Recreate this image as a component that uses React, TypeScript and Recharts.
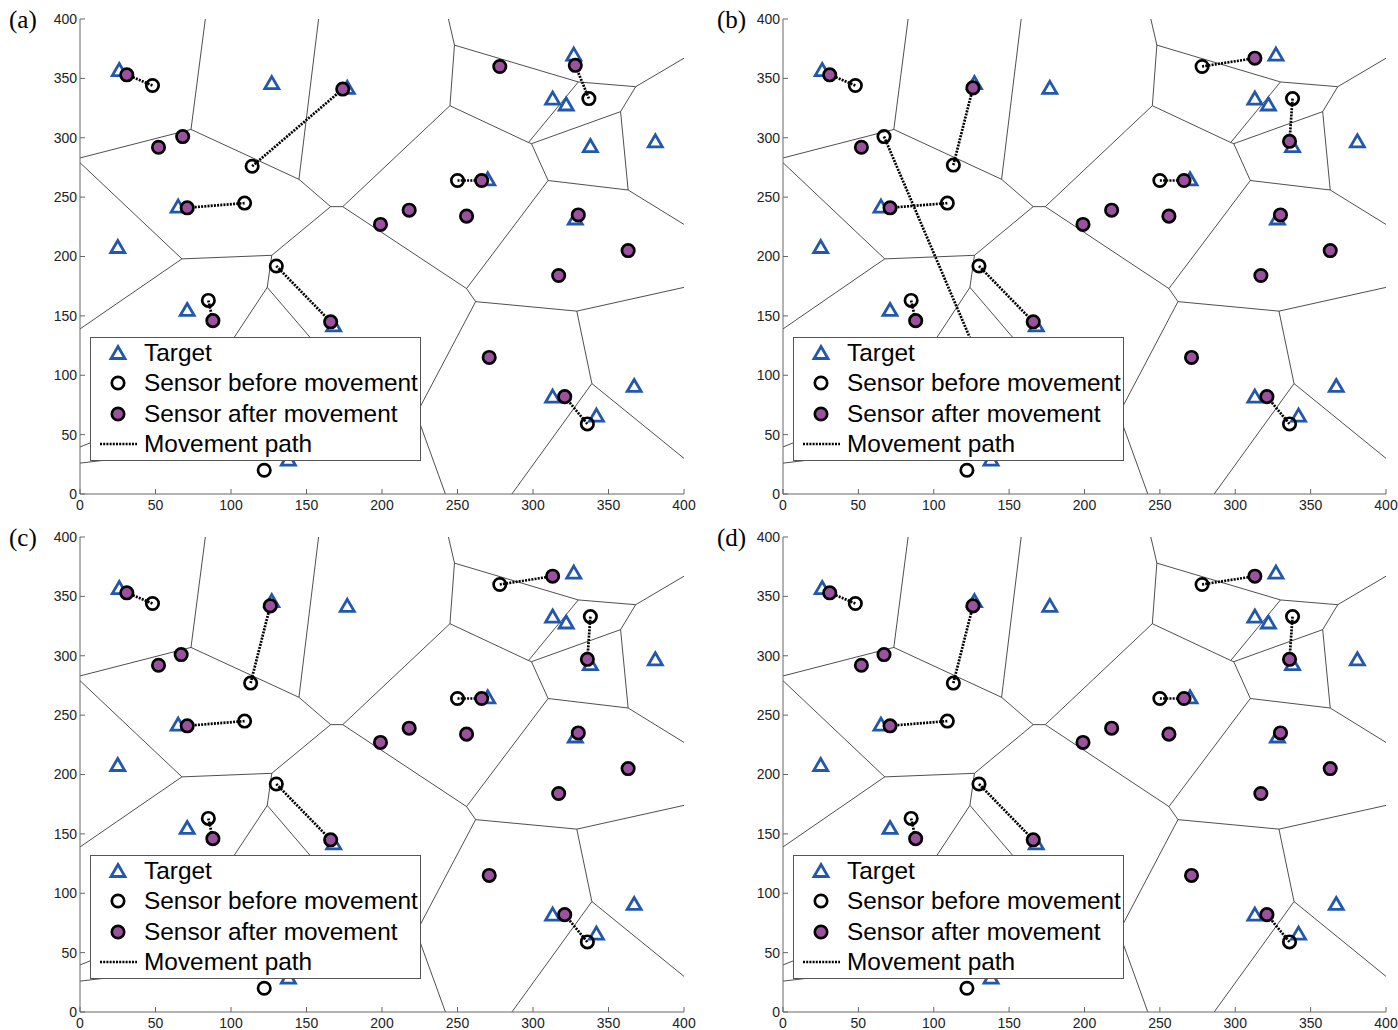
import React from 'react';
import { ScatterChart, Scatter, XAxis, YAxis, ReferenceLine, Legend } from 'recharts';

type P = { x: number; y: number };
type Seg = [number, number, number, number];

const TICKS = [0, 50, 100, 150, 200, 250, 300, 350, 400];

// targets (same in all four panels)
const targets: P[] = [
  { x: 26, y: 357 }, { x: 127, y: 346 }, { x: 177, y: 342 }, { x: 327, y: 370 },
  { x: 313, y: 333 }, { x: 322, y: 328 }, { x: 338, y: 293 }, { x: 381, y: 297 },
  { x: 270, y: 265 }, { x: 328, y: 232 }, { x: 65, y: 242 }, { x: 25, y: 208 },
  { x: 71, y: 155 }, { x: 168, y: 142 }, { x: 138, y: 29 }, { x: 313, y: 82 },
  { x: 342, y: 66 }, { x: 367, y: 91 },
];

// voronoi edges (x1, y1, x2, y2), shared by the panels
const cellEdges: Seg[] = [
  [83, 400, 73.5, 307], [0, 283, 73.5, 307], [73.5, 307, 145, 265], [158, 400, 145, 265],
  [145, 265, 166, 242], [166, 242, 174, 242], [0, 279, 67.5, 198], [67.5, 198, 0, 139],
  [67.5, 198, 127, 201], [127, 201, 166, 242], [127, 201, 124, 174], [124, 174, 98, 124],
  [124, 174, 155, 128], [174, 242, 245, 327], [174, 242, 256, 173], [256, 173, 262, 162],
  [256, 173, 310, 264], [245, 327, 248, 378], [248, 378, 244, 400], [248, 378, 330, 347],
  [330, 347, 368, 343], [368, 343, 400, 367], [368, 343, 358, 322], [330, 347, 297, 296],
  [245, 327, 297, 296], [297, 296, 299, 295], [299, 295, 358, 322], [299, 295, 310, 264],
  [310, 264, 363, 256], [358, 322, 363, 256], [363, 256, 400, 227], [262, 162, 329, 154],
  [329, 154, 400, 174], [329, 154, 339, 93], [339, 93, 400, 30], [339, 93, 286, 0],
  [262, 162, 222.8, 67.4], [222.8, 67.4, 242, 0], [222.8, 67.4, 180, 90],
  [0, 39.6, 30, 55], [0, 26, 40, 32],
];

// panel (a)
const beforeA: P[] = [
  { x: 48, y: 344 }, { x: 114, y: 276 }, { x: 109, y: 245 }, { x: 250, y: 264 },
  { x: 337, y: 333 }, { x: 130, y: 192 }, { x: 85, y: 163 }, { x: 336, y: 59 }, { x: 122, y: 20 },
];
const afterA: P[] = [
  { x: 31, y: 353 }, { x: 68, y: 301 }, { x: 52, y: 292 }, { x: 71, y: 241 }, { x: 174, y: 341 },
  { x: 278, y: 360 }, { x: 328, y: 361 }, { x: 266, y: 264 }, { x: 330, y: 235 }, { x: 199, y: 227 },
  { x: 218, y: 239 }, { x: 256, y: 234 }, { x: 317, y: 184 }, { x: 363, y: 205 }, { x: 88, y: 146 },
  { x: 166, y: 145 }, { x: 271, y: 115 }, { x: 321, y: 82 },
];
const pathsA: Seg[] = [
  [48, 344, 31, 353], [114, 276, 174, 341], [109, 245, 71, 241], [250, 264, 266, 264],
  [337, 333, 328, 361], [130, 192, 166, 145], [85, 163, 88, 146], [336, 59, 321, 82],
];

// panel (b)
const beforeB: P[] = [
  { x: 48, y: 344 }, { x: 67, y: 301 }, { x: 113, y: 277 }, { x: 109, y: 245 }, { x: 278, y: 360 },
  { x: 338, y: 333 }, { x: 250, y: 264 }, { x: 130, y: 192 }, { x: 85, y: 163 }, { x: 336, y: 59 },
  { x: 122, y: 20 },
];
const afterB: P[] = [
  { x: 31, y: 353 }, { x: 52, y: 292 }, { x: 71, y: 241 }, { x: 126, y: 342 }, { x: 313, y: 367 },
  { x: 336, y: 297 }, { x: 266, y: 264 }, { x: 330, y: 235 }, { x: 199, y: 227 }, { x: 218, y: 239 },
  { x: 256, y: 234 }, { x: 317, y: 184 }, { x: 363, y: 205 }, { x: 88, y: 146 }, { x: 166, y: 145 },
  { x: 271, y: 115 }, { x: 321, y: 82 }, { x: 143, y: 75 },
];
const pathsB: Seg[] = [
  [48, 344, 31, 353], [67, 301, 143, 75], [113, 277, 126, 342], [109, 245, 71, 241],
  [278, 360, 313, 367], [338, 333, 336, 297], [250, 264, 266, 264], [130, 192, 166, 145],
  [85, 163, 88, 146], [336, 59, 321, 82],
];

// panels (c) and (d)
const beforeC: P[] = [
  { x: 48, y: 344 }, { x: 113, y: 277 }, { x: 109, y: 245 }, { x: 278, y: 360 }, { x: 338, y: 333 },
  { x: 250, y: 264 }, { x: 130, y: 192 }, { x: 85, y: 163 }, { x: 336, y: 59 }, { x: 122, y: 20 },
];
const afterC: P[] = [
  { x: 31, y: 353 }, { x: 67, y: 301 }, { x: 52, y: 292 }, { x: 71, y: 241 }, { x: 126, y: 342 },
  { x: 313, y: 367 }, { x: 336, y: 297 }, { x: 266, y: 264 }, { x: 330, y: 235 }, { x: 199, y: 227 },
  { x: 218, y: 239 }, { x: 256, y: 234 }, { x: 317, y: 184 }, { x: 363, y: 205 }, { x: 88, y: 146 },
  { x: 166, y: 145 }, { x: 271, y: 115 }, { x: 321, y: 82 },
];
const pathsC: Seg[] = [
  [48, 344, 31, 353], [113, 277, 126, 342], [109, 245, 71, 241], [278, 360, 313, 367],
  [338, 333, 336, 297], [250, 264, 266, 264], [130, 192, 166, 145], [85, 163, 88, 146],
  [336, 59, 321, 82],
];

const BLUE = '#2157ad';
const PURPLE = '#9c519f';
const FRAME = '#666';
const FONT = '"Liberation Sans", Arial, sans-serif';

const Triangle = (p: any) => (
  <path
    d={`M${p.cx},${p.cy - 6.5} L${p.cx + 7},${p.cy + 5.5} L${p.cx - 7},${p.cy + 5.5} Z`}
    fill="none" stroke={BLUE} strokeWidth={2.8}
  />
);
const OpenDot = (p: any) => <circle cx={p.cx} cy={p.cy} r={6.2} fill="none" stroke="#000" strokeWidth={2.7} />;
const FullDot = (p: any) => <circle cx={p.cx} cy={p.cy} r={6.2} fill={PURPLE} stroke="#000" strokeWidth={2.7} />;

const LegendBox = () => {
  const rows = ['Target', 'Sensor before movement', 'Sensor after movement', 'Movement path'];
  return (
    <div style={{ position: 'relative', width: 331, height: 124, boxSizing: 'border-box', border: '1px solid #555', background: '#fff', fontFamily: FONT, fontSize: 24.4, color: '#000' }}>
      {rows.map((r, i) => (
        <div key={r} style={{ position: 'absolute', left: 0, top: i * 30.3, height: 30, display: 'flex', alignItems: 'center', whiteSpace: 'nowrap' }}>
          <svg width={52} height={30}>
            {i === 0 && <Triangle cx={27} cy={15} />}
            {i === 1 && <OpenDot cx={27} cy={15} />}
            {i === 2 && <FullDot cx={27} cy={15} />}
            {i === 3 && <line x1={9} y1={15} x2={46} y2={15} stroke="#000" strokeWidth={2.6} strokeDasharray="2 1.2" />}
          </svg>
          <span style={{ marginLeft: 1 }}>{r}</span>
        </div>
      ))}
    </div>
  );
};

interface PanelProps {
  label: string;
  left: number;
  top: number;
  right: number;
  before: P[];
  after: P[];
  paths: Seg[];
}

const tickStyle = { fontSize: 14, fill: '#222', fontFamily: FONT };

const Panel: React.FC<PanelProps> = ({ label, left, top, right, before, after, paths }) => (
  <div style={{ position: 'absolute', left, top }}>
    <div style={{ position: 'absolute', left: left > 0 ? 14 : 9, top: 6, fontFamily: '"Liberation Serif", "Times New Roman", serif', fontSize: 25, lineHeight: '28px', zIndex: 2 }}>
      {label}
    </div>
    <ScatterChart width={700} height={530} margin={{ top: 19, right, bottom: 6, left: 40 }}>
      <XAxis dataKey="x" type="number" domain={[0, 400]} ticks={TICKS} allowDataOverflow height={30}
        tickSize={-5} tickMargin={11} tick={tickStyle} stroke={FRAME} />
      <YAxis dataKey="y" type="number" domain={[0, 400]} ticks={TICKS} allowDataOverflow width={40}
        tickSize={-5} tickMargin={8} tick={tickStyle} stroke={FRAME} />
      <XAxis xAxisId="top" orientation="top" type="number" domain={[0, 400]} ticks={TICKS} allowDataOverflow
        height={0} tickSize={-5} tick={false} stroke={FRAME} />
      <YAxis yAxisId="right" orientation="right" type="number" domain={[0, 400]} ticks={TICKS} allowDataOverflow
        width={0} tickSize={-5} tick={false} stroke={FRAME} />
      {cellEdges.map((e, i) => (
        <ReferenceLine key={'c' + i} segment={[{ x: e[0], y: e[1] }, { x: e[2], y: e[3] }]}
          stroke="#222" strokeWidth={0.8} ifOverflow="visible" />
      ))}
      <Scatter data={targets} shape={Triangle} isAnimationActive={false} />
      <Scatter data={before} shape={OpenDot} isAnimationActive={false} />
      <Scatter data={after} shape={FullDot} isAnimationActive={false} />
      {paths.map((s, i) => (
        <ReferenceLine key={'p' + i} segment={[{ x: s[0], y: s[1] }, { x: s[2], y: s[3] }]}
          stroke="#000" strokeWidth={2.7} strokeDasharray="2 1.2" ifOverflow="visible" />
      ))}
      <Legend layout="horizontal" verticalAlign="middle" align="center"
        wrapperStyle={{ left: 90, top: 337, width: 331, height: 124 }} content={() => <LegendBox />} />
    </ScatterChart>
  </div>
);

export default function App() {
  return (
    <div style={{ position: 'absolute', left: 0, top: 0, width: 1398, height: 1030, background: '#fff' }}>
      <Panel label="(a)" left={0} top={0} right={16} before={beforeA} after={afterA} paths={pathsA} />
      <Panel label="(b)" left={703} top={0} right={17} before={beforeB} after={afterB} paths={pathsB} />
      <Panel label="(c)" left={0} top={518} right={16} before={beforeC} after={afterC} paths={pathsC} />
      <Panel label="(d)" left={703} top={518} right={17} before={beforeC} after={afterC} paths={pathsC} />
    </div>
  );
}
